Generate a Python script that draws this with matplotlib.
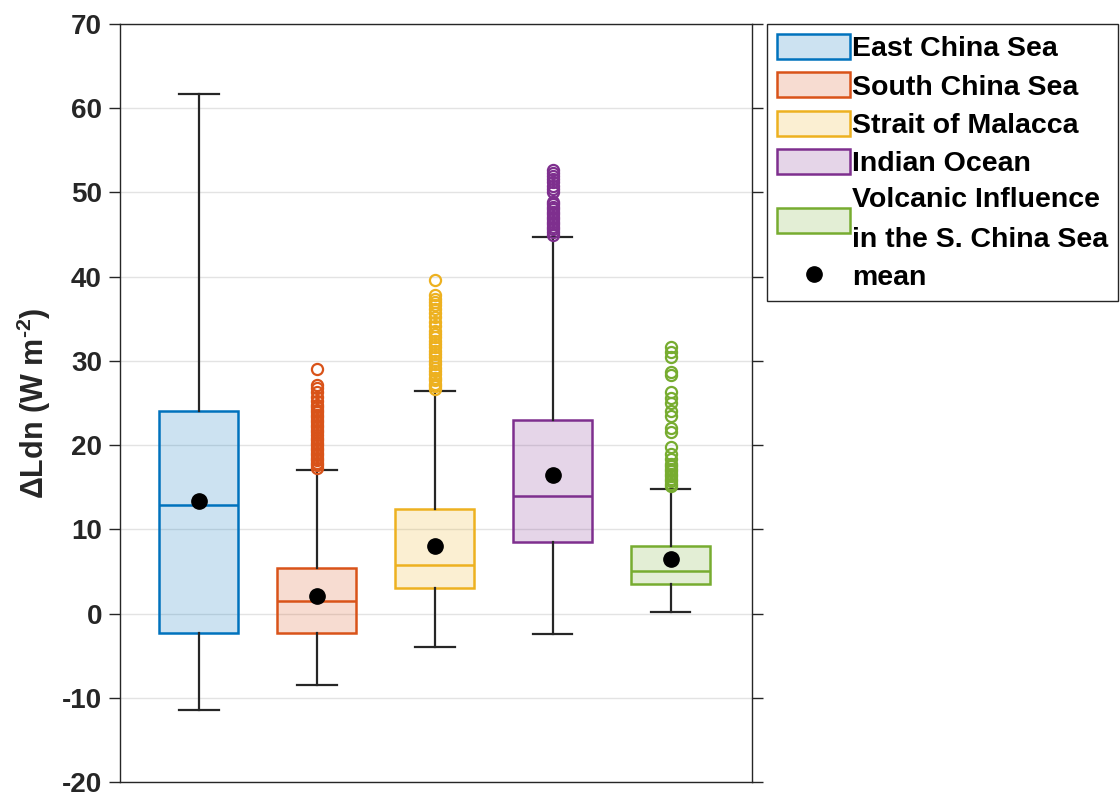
import matplotlib
matplotlib.use("Agg")
import matplotlib.pyplot as plt
from matplotlib.patches import Patch
from matplotlib.lines import Line2D

REGIONS = ["East China Sea", "South China Sea", "Strait of Malacca", "Indian Ocean",
           "Volcanic Influence\nin the S. China Sea"]
COLORS = ["#0072BD", "#D95319", "#EDB120", "#7E2F8E", "#77AC30"]

# box statistics per region (W m-2)
WHIS_LO = [-11.5, -8.5, -4.0, -2.4, 0.2]
Q1 = [-2.3, -2.3, 3.0, 8.5, 3.5]
MEDIAN = [12.9, 1.5, 5.8, 14.0, 5.1]
Q3 = [24.0, 5.4, 12.4, 23.0, 8.0]
WHIS_HI = [61.7, 17.0, 26.4, 44.7, 14.8]
MEAN = [13.4, 2.1, 8.0, 16.5, 6.5]

FLIERS = [
    [],
    [17.3, 17.6, 17.9, 18.2, 18.5, 18.8, 19.1, 19.4, 19.7, 20.0, 20.3, 20.6, 20.9,
     21.2, 21.5, 21.8, 22.1, 22.4, 22.7, 23.0, 23.3, 23.6, 23.9, 24.2, 24.5, 24.8,
     25.2, 25.7, 26.3, 26.8, 27.1, 29.0],
    [26.7, 27.0, 27.3, 27.7, 28.0, 28.4, 28.8, 29.2, 29.6, 30.0, 30.4, 30.8, 31.2,
     31.6, 32.0, 32.4, 32.8, 33.2, 33.6, 34.1, 34.6, 35.2, 35.7, 36.1, 36.6, 37.0,
     37.4, 37.8, 39.6],
    [45.0, 45.3, 45.6, 45.9, 46.2, 46.5, 46.8, 47.1, 47.4, 47.7, 48.0, 48.3, 48.6,
     48.9, 50.0, 50.4, 50.8, 51.2, 51.6, 52.0, 52.3, 52.7],
    [15.1, 15.4, 15.7, 16.0, 16.3, 16.6, 16.9, 17.2, 17.5, 17.8, 18.4, 19.0, 19.8,
     21.6, 22.0, 23.4, 24.0, 25.0, 25.6, 26.3, 28.3, 28.7, 30.5, 31.1, 31.7],
]

YTICKS = [-20, -10, 0, 10, 20, 30, 40, 50, 60, 70]

plt.rcParams["font.family"] = ["Liberation Sans", "DejaVu Sans"]
plt.rcParams["font.weight"] = "bold"
plt.rcParams["axes.unicode_minus"] = False
plt.rcParams["mathtext.fontset"] = "custom"
plt.rcParams["mathtext.rm"] = "Liberation Sans:bold"
plt.rcParams["mathtext.bf"] = "Liberation Sans:bold"

fig = plt.figure(figsize=(11.2, 7.99), dpi=100)
ax = fig.add_axes([0.1071, 0.0213, 0.5643, 0.9487])

dark = "#262626"
for i in range(len(REGIONS)):
    stats = [dict(whislo=WHIS_LO[i], q1=Q1[i], med=MEDIAN[i], q3=Q3[i],
                  whishi=WHIS_HI[i], mean=MEAN[i], fliers=FLIERS[i])]
    c = COLORS[i]
    ax.bxp(stats, positions=[i + 1], widths=0.67, patch_artist=True,
           showmeans=True, zorder=3,
           boxprops=dict(facecolor=c + "33", edgecolor=c, linewidth=1.8),
           medianprops=dict(color=c, linewidth=1.8),
           whiskerprops=dict(color=dark, linewidth=1.6),
           capprops=dict(color=dark, linewidth=1.6),
           flierprops=dict(marker="o", markerfacecolor="none", markeredgecolor=c,
                           markersize=8, markeredgewidth=1.6),
           meanprops=dict(marker="o", markerfacecolor="black", markeredgecolor="black",
                          markersize=11))

ax.set_xlim(0.33, 5.69)
ax.set_ylim(-20, 70)
ax.set_yticks(YTICKS)
ax.set_xticks([])
ax.yaxis.grid(True, color="#e3e3e3", linewidth=1)
ax.set_axisbelow(True)
ax.tick_params(axis="y", direction="out", length=8, width=1, color=dark,
               labelsize=20, right=True, labelcolor=dark, pad=5)
for s in ax.spines.values():
    s.set_color(dark)
    s.set_linewidth(1)
ax.set_ylabel(r"$\Delta$Ldn (W m$^{\text{-2}}$)", fontsize=22, fontweight="bold",
              color=dark, labelpad=6)

handles = [Patch(facecolor=c + "33", edgecolor=c, linewidth=1.8) for c in COLORS]
handles.append(Line2D([], [], marker="o", linestyle="none", color="black", markersize=11))
labels = REGIONS + ["mean"]
leg = ax.legend(handles, labels, loc="upper left", bbox_to_anchor=(1.024, 1.0),
                borderaxespad=0, fancybox=False, edgecolor=dark, fontsize=20.5,
                handlelength=2.55, handleheight=0.97, labelspacing=0.35,
                handletextpad=0.06, borderpad=0.36, framealpha=1)
leg.get_frame().set_linewidth(1)
for t in leg.get_texts():
    t.set_linespacing(1.68)

fig.savefig("out.png", dpi=100)
